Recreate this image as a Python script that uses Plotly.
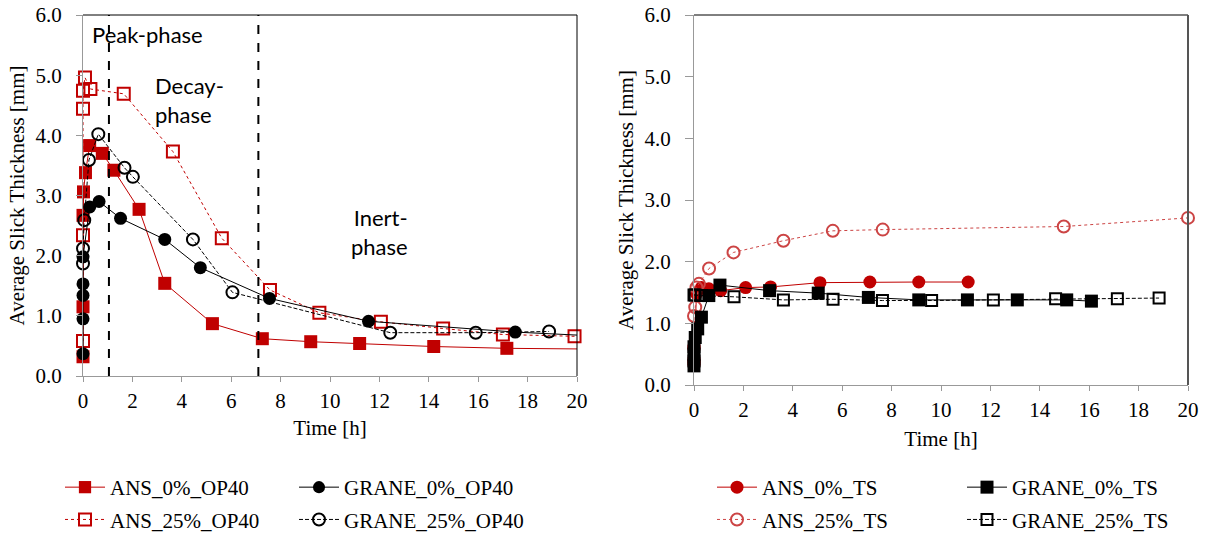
import plotly.graph_objects as go

W, H = 1207, 535
RED = "#C00000"
RED_LIGHT = "#CC4444"
SERIF = "Liberation Serif"
SANS = "Lato"

# ---------------- Left chart (OP40) ----------------
ans0_op40_t = [0, 0, 0, 0.02, 0.1, 0.27, 0.78, 1.25, 2.27, 3.31, 5.24, 7.26, 9.22, 11.2, 14.2, 17.16, 20]
ans0_op40_y = [0.32, 1.15, 2.67, 3.06, 3.38, 3.83, 3.70, 3.42, 2.77, 1.54, 0.87, 0.62, 0.57, 0.54, 0.49, 0.46, 0.45]

grane0_op40_t = [0, 0, 0, 0, 0, 0.27, 0.65, 1.52, 3.31, 4.75, 7.55, 11.56, 17.5, 20]
grane0_op40_y = [0.37, 0.95, 1.34, 1.53, 1.98, 2.81, 2.90, 2.62, 2.27, 1.80, 1.29, 0.91, 0.73, 0.68]

ans25_op40_t = [0, 0, 0, 0, 0.08, 0.3, 1.65, 3.64, 5.62, 7.57, 9.57, 12.06, 14.58, 17.0, 19.9]
ans25_op40_y = [0.58, 2.34, 4.44, 4.74, 4.96, 4.77, 4.69, 3.73, 2.29, 1.43, 1.05, 0.90, 0.79, 0.69, 0.66]

grane25_op40_t = [0, 0, 0.05, 0.24, 0.62, 1.68, 2.02, 4.45, 6.05, 12.44, 15.9, 18.87]
grane25_op40_y = [1.87, 2.12, 2.59, 3.59, 4.02, 3.46, 3.31, 2.27, 1.39, 0.72, 0.72, 0.74]

phase_bounds = [1.05, 7.1]

# ---------------- Right chart (TS) ----------------
ans0_ts_t = [0, 0, 0.1, 0.3, 0.6, 1.08, 2.09, 3.1, 5.1, 7.12, 9.1, 11.1]
ans0_ts_y = [0.33, 0.42, 1.48, 1.58, 1.56, 1.53, 1.58, 1.59, 1.66, 1.67, 1.67, 1.67]

grane0_ts_t = [0, 0, 0, 0, 0.05, 0.15, 0.3, 0.6, 1.05, 3.06, 5.03, 7.06, 9.1, 11.07, 13.09, 15.09, 16.09]
grane0_ts_y = [0.31, 0.39, 0.50, 0.62, 0.77, 0.91, 1.10, 1.45, 1.62, 1.53, 1.49, 1.42, 1.38, 1.38, 1.38, 1.38, 1.36]

ans25_ts_t = [0, 0, 0, 0.05, 0.1, 0.2, 0.61, 1.6, 3.62, 5.62, 7.64, 14.97, 20.0]
ans25_ts_y = [0.37, 0.61, 1.12, 1.26, 1.58, 1.64, 1.89, 2.15, 2.34, 2.50, 2.52, 2.57, 2.71]

grane25_ts_t = [0, 0.05, 0.3, 1.62, 3.62, 5.63, 7.63, 9.62, 12.12, 14.64, 17.14, 18.83]
grane25_ts_y = [1.46, 1.46, 1.45, 1.43, 1.38, 1.39, 1.37, 1.37, 1.38, 1.40, 1.40, 1.41]

x_ticks = list(range(0, 21, 2))
y_ticks = [0, 1, 2, 3, 4, 5, 6]

fig = go.Figure()


def add(t, y, name, xa, ya, legend, color, symbol, dash, size, group,
        hide_last=False, lw=1):
    sizes = [size] * len(t)
    if hide_last:
        sizes[-1] = 0
    fig.add_trace(go.Scatter(
        x=t, y=y, name=name, mode="lines+markers", xaxis=xa, yaxis=ya,
        legend=legend, legendgroup=group, cliponaxis=False,
        line=dict(color=color, width=lw, dash=dash),
        marker=dict(symbol=symbol, size=sizes, color=color, opacity=1,
                    line=dict(width=2 if "open" in symbol else 0, color=color)),
    ))


FINE_DASH = "4px,2px"

# Left
add(ans0_op40_t, ans0_op40_y, "ANS_0%_OP40", "x", "y", "legend", RED, "square", "solid", 13, "a", hide_last=True)
add(ans25_op40_t, ans25_op40_y, "ANS_25%_OP40", "x", "y", "legend", RED, "square-open", "dot", 12, "b")
add(grane0_op40_t, grane0_op40_y, "GRANE_0%_OP40", "x", "y", "legend2", "black", "circle", "solid", 13, "c", hide_last=True)
add(grane25_op40_t, grane25_op40_y, "GRANE_25%_OP40", "x", "y", "legend2", "black", "circle-open", FINE_DASH, 12, "d")

# Right
add(ans0_ts_t, ans0_ts_y, "ANS_0%_TS", "x2", "y2", "legend3", RED, "circle", "solid", 13, "e")
add(ans25_ts_t, ans25_ts_y, "ANS_25%_TS", "x2", "y2", "legend3", RED_LIGHT, "circle-open", "dot", 12, "f")
add(grane0_ts_t, grane0_ts_y, "GRANE_0%_TS", "x2", "y2", "legend4", "black", "square", "solid", 13, "g")
add(grane25_ts_t, grane25_ts_y, "GRANE_25%_TS", "x2", "y2", "legend4", "black", "square-open", FINE_DASH, 11, "h")


def px_x(p):
    return p / W


def px_y(p):
    return 1 - p / H


axis_font = dict(family=SERIF, size=21, color="black")

xcommon = dict(range=[0, 20], tickvals=x_ticks, ticks="outside", ticklen=5, tickcolor="#999",
               showline=True, linecolor="#999", linewidth=1, showgrid=False, zeroline=False,
               tickfont=axis_font, title=dict(text="Time [h]", font=axis_font, standoff=8),
               ticklabelstandoff=1, automargin=False)
ycommon = dict(range=[0, 6], tickvals=y_ticks, tickformat=".1f", ticks="outside", ticklen=6,
               tickcolor="#999", showline=True, linecolor="#999", linewidth=1, showgrid=False,
               zeroline=False, tickfont=axis_font,
               title=dict(text="Average Slick Thickness [mm]", font=axis_font, standoff=5),
               ticklabelstandoff=10, automargin=False)

fig.update_layout(
    width=W, height=H, margin=dict(l=0, r=0, t=0, b=0, autoexpand=False),
    paper_bgcolor="white", plot_bgcolor="white",
    xaxis=dict(xcommon, domain=[px_x(83), px_x(577)], anchor="y"),
    yaxis=dict(ycommon, domain=[px_y(376), px_y(15)], anchor="x"),
    xaxis2=dict(xcommon, domain=[px_x(694), px_x(1188)], anchor="y2"),
    yaxis2=dict(ycommon, domain=[px_y(385), px_y(15)], anchor="x2", ticklen=8),
)
fig.layout.xaxis2.title.standoff = 10

leg_common = dict(orientation="v", font=dict(family=SERIF, size=21, color="black"),
                  bgcolor="rgba(0,0,0,0)", xanchor="left", yanchor="top",
                  tracegroupgap=2, itemwidth=40)
fig.update_layout(
    legend=dict(leg_common, x=px_x(60), y=px_y(467)),
    legend2=dict(leg_common, x=px_x(294), y=px_y(467)),
    legend3=dict(leg_common, x=px_x(712), y=px_y(467)),
    legend4=dict(leg_common, x=px_x(962), y=px_y(467)),
)

shapes = []
for xa, ya, rc, rw in [("x", "y", "black", 1), ("x2", "y2", "#555", 2)]:
    shapes.append(dict(type="line", xref=f"{xa} domain", yref=f"{ya} domain", x0=0, x1=1, y0=1, y1=1,
                       line=dict(color="black", width=1)))
    shapes.append(dict(type="line", xref=f"{xa} domain", yref=f"{ya} domain", x0=1, x1=1, y0=0, y1=1,
                       line=dict(color=rc, width=rw)))
for b in phase_bounds:
    shapes.append(dict(type="line", xref="x", yref="y domain", x0=b, x1=b, y0=0, y1=1,
                       line=dict(color="black", width=2, dash="dash")))
fig.update_layout(shapes=shapes)

ann_font = dict(family=SANS, size=22, color="black")
fig.update_layout(annotations=[
    dict(text="Peak-phase", x=2.6, y=5.68, xref="x", yref="y", showarrow=False, font=ann_font),
    dict(text="Decay-<br>phase", x=2.85, y=4.58, xref="x", yref="y", showarrow=False, font=ann_font,
         xanchor="left", align="left"),
    dict(text="Inert-<br>phase", x=13.25, y=2.39, xref="x", yref="y", showarrow=False, font=ann_font,
         xanchor="right", align="right"),
])

fig.write_html("out.html", config={"displayModeBar": False},
               post_script="document.body.style.margin='0px';")
